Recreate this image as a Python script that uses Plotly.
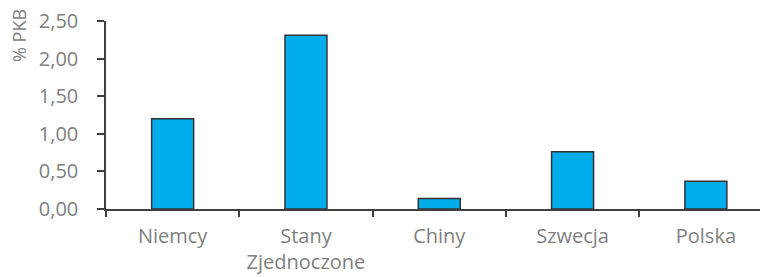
import plotly.graph_objects as go

categories = ["Niemcy", "Stany<br>Zjednoczone", "Chiny", "Szwecja", "Polska"]
values = [1.20, 2.31, 0.14, 0.76, 0.37]
y_ticks = [0, 0.5, 1.0, 1.5, 2.0, 2.5]
y_tick_labels = ["0,00", "0,50", "1,00", "1,50", "2,00", "2,50"]

gray = "#7f7f7f"
axis_col = "#3f3f3f"
fs = 20

W, H = 760, 269
L, T, B = 98, 13, 68

fig = go.Figure(go.Bar(
    x=categories, y=values, width=0.315,
    marker=dict(color="#00adeb", line=dict(color="#333333", width=1.5)),
))
fig.update_layout(
    width=W, height=H,
    margin=dict(l=L, r=0, t=T, b=B, pad=0),
    paper_bgcolor="white", plot_bgcolor="white",
    font=dict(family="Open Sans", size=fs, color=gray),
    showlegend=False,
    xaxis=dict(
        type="category", range=[-0.5, 4.466], automargin=False,
        showline=True, linecolor=axis_col, linewidth=1.5,
        ticks="outside", tickson="boundaries", ticklen=6, tickcolor=axis_col, tickwidth=1.5,
        showgrid=False, zeroline=False,
        tickfont=dict(size=fs, color=gray),
        ticklabelstandoff=8, ticklabeloverflow="allow",
    ),
    yaxis=dict(
        range=[0, 2.5], tickvals=y_ticks, ticktext=y_tick_labels, automargin=False,
        showline=True, linecolor=axis_col, linewidth=1.5,
        ticks="outside", ticklen=7, tickcolor=axis_col, tickwidth=1.5,
        showgrid=False, zeroline=False,
        tickfont=dict(size=fs, color=gray),
        ticklabelstandoff=15, ticklabeloverflow="allow",
    ),
    annotations=[dict(
        text="% PKB", showarrow=False, textangle=-90, font=dict(size=18, color=gray),
        xref="paper", yref="paper",
        x=(11 - L) / (W - L), y=(188 - (36 - 8 - T)) / 188,
        xanchor="center", yanchor="middle",
    )],
)
fig.write_html("out.html")
